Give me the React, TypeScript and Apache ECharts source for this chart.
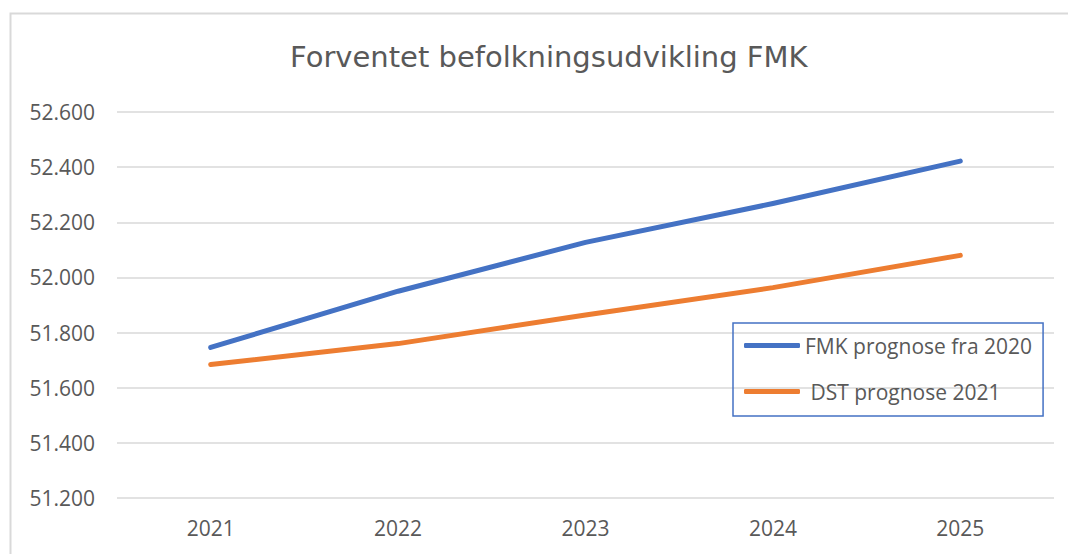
import React, { useEffect, useRef } from "react";
import * as echarts from "echarts";

const years = ["2021", "2022", "2023", "2024", "2025"];
const fmkPrognose = [51746, 51950, 52127, 52268, 52422];
const dstPrognose = [51684, 51760, 51864, 51963, 52080];
const seriesNames = ["FMK prognose fra 2020", "DST prognose 2021"];
const titleText = "Forventet befolkningsudvikling FMK";

const fmt = (v: number) => {
  const s = Math.round(v).toString();
  return s.replace(/\B(?=(\d{3})+(?!\d))/g, ".");
};

export default function App() {
  const ref = useRef<HTMLDivElement>(null);
  useEffect(() => {
    if (!ref.current) return;
    const chart = echarts.init(ref.current, undefined, { renderer: "svg" });
    const font = "'Open Sans', 'Noto Sans', sans-serif";
    chart.setOption({
      animation: false,
      backgroundColor: "#ffffff",
      textStyle: { fontFamily: font },
      title: {
        text: titleText,
        left: 285,
        top: 37,
        textStyle: { fontFamily: "'DejaVu Sans', sans-serif", fontSize: 29, fontWeight: "normal", color: "#595959" },
      },
      grid: { left: 117, right: 14, top: 112, bottom: 56 },
      xAxis: {
        type: "category",
        data: years,
        boundaryGap: true,
        axisLine: { show: false },
        axisTick: { show: false },
        axisLabel: { color: "#595959", fontSize: 21, margin: 19, fontFamily: font },
      },
      yAxis: {
        type: "value",
        min: 51200,
        max: 52600,
        interval: 200,
        axisLine: { show: false },
        axisTick: { show: false },
        splitLine: { lineStyle: { color: "#D9D9D9", width: 1.5 } },
        axisLabel: { color: "#595959", fontSize: 21, margin: 22, fontFamily: font, formatter: fmt },
      },
      legend: {
        orient: "vertical",
        left: 733,
        top: 323,
        itemWidth: 56,
        itemHeight: 5,
        itemGap: 25,
        itemTextGap: 4,
        icon: "roundRect",
        padding: [12, 11, 14, 11],
        borderColor: "#4472C4",
        borderWidth: 1.5,
        borderRadius: 0,
        formatter: (name: string) => (name === seriesNames[1] ? " " + name : name),
        textStyle: { color: "#595959", fontSize: 21, fontFamily: font },
        data: seriesNames,
      },
      graphic: [
        {
          type: "rect",
          shape: { x: 10.5, y: 13.5, width: 1100, height: 600 },
          style: { fill: "none", stroke: "#D9D9D9", lineWidth: 2 },
          silent: true,
          z: 100,
        },
      ],
      series: [
        {
          name: seriesNames[0],
          type: "line",
          data: fmkPrognose,
          symbol: "none",
          lineStyle: { color: "#4472C4", width: 5, cap: "round", join: "round" },
          itemStyle: { color: "#4472C4" },
        },
        {
          name: seriesNames[1],
          type: "line",
          data: dstPrognose,
          symbol: "none",
          lineStyle: { color: "#ED7D31", width: 5, cap: "round", join: "round" },
          itemStyle: { color: "#ED7D31" },
        },
      ],
    });
    return () => chart.dispose();
  }, []);
  return (
    <div
      ref={ref}
      style={{ position: "fixed", left: 0, top: 0, width: 1068, height: 554 }}
    />
  );
}
